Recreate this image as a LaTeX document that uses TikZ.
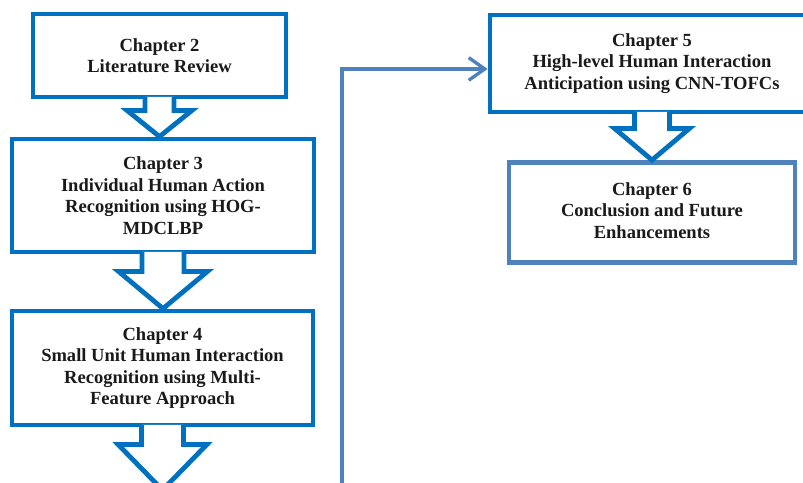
\documentclass[tikz,border=0pt]{standalone}
\usepackage{fontspec}
\setmainfont{Liberation Serif}
\usetikzlibrary{calc,arrows.meta}

\definecolor{chblue}{HTML}{0070C0}
\definecolor{steel}{HTML}{4F81BD}
\definecolor{ink}{HTML}{1A1A1A}

\tikzset{
  chapbox/.style={draw=chblue, line width=3.6pt, fill=white, rectangle,
    align=center, text=ink, inner sep=0pt,
    font=\fontsize{13.9}{16.2}\selectfont\bfseries},
  blockarrow/.style={draw=chblue, fill=white, line width=3.6pt, line join=miter},
  conn/.style={draw=steel, line width=2.5pt,
    -{Straight Barb[length=12pt, width=17pt, line width=2.5pt]}},
}

\begin{document}
\begin{tikzpicture}[x=0.75pt, y=-0.75pt]
  \useasboundingbox (0,0) rectangle (803,482);
  \clip (0,0) rectangle (803,482);

  % chapter boxes
  \node[chapbox, minimum width=189.75pt, minimum height=62.25pt] (b2) at (159.5,55.5)
    {Chapter 2\\Literature Review};
  \node[chapbox, minimum width=226.5pt, minimum height=84.75pt] (b3) at (163,195.5)
    {Chapter 3\\Individual Human Action\\Recognition using HOG-\\MDCLBP};
  \node[chapbox, minimum width=225.75pt, minimum height=85.5pt] (b4) at (162.5,368)
    {Chapter 4\\Small Unit Human Interaction\\Recognition using Multi-\\Feature Approach};
  \node[chapbox, minimum width=243pt, minimum height=72.75pt] (b5) at (652,63.5)
    {Chapter 5\\High-level Human Interaction\\Anticipation using CNN-TOFCs};
  \node[chapbox, draw=steel, minimum width=214.5pt, minimum height=75pt] (b6) at (652,212.5)
    {\raisebox{6.6pt}{\begin{tabular}{@{}c@{}}Chapter 6\\Conclusion and Future\\Enhancements\end{tabular}}};

  % loose ends below the visible area
  \coordinate (t4) at (162.5,490);
  \coordinate (c0) at (342,490);

  % block arrows between chapters
  \filldraw[blockarrow]
    ($(b2.south)+(-14.5,-2.5)$) -- ($(b2.south)+(-14.5,11)$) -- ($(b2.south)+(-32.5,11)$)
    -- (b2.south |- b3.north)
    -- ($(b2.south)+(32.5,11)$) -- ($(b2.south)+(14.5,11)$) -- ($(b2.south)+(14.5,-2.5)$);
  \filldraw[blockarrow]
    ($(b3.south)+(-21,-2.5)$) -- ($(b3.south)+(-21,17)$) -- ($(b3.south)+(-44.5,17)$)
    -- (b3.south |- b4.north)
    -- ($(b3.south)+(44.5,17)$) -- ($(b3.south)+(21,17)$) -- ($(b3.south)+(21,-2.5)$);
  \filldraw[blockarrow]
    ($(b4.south)+(-21,-2.5)$) -- ($(b4.south)+(-21,17)$) -- ($(b4.south)+(-44.5,17)$)
    -- (t4)
    -- ($(b4.south)+(44.5,17)$) -- ($(b4.south)+(21,17)$) -- ($(b4.south)+(21,-2.5)$);
  \filldraw[blockarrow]
    ($(b5.south)+(-17.5,-2.5)$) -- ($(b5.south)+(-17.5,14)$) -- ($(b5.south)+(-37.5,14)$)
    -- (b5.south |- b6.north)
    -- ($(b5.south)+(37.5,14)$) -- ($(b5.south)+(17.5,14)$) -- ($(b5.south)+(17.5,-2.5)$);

  % return line into chapter 5
  \draw[conn] (c0) |- ([yshift=-4.1pt]b5.west);
\end{tikzpicture}
\end{document}
